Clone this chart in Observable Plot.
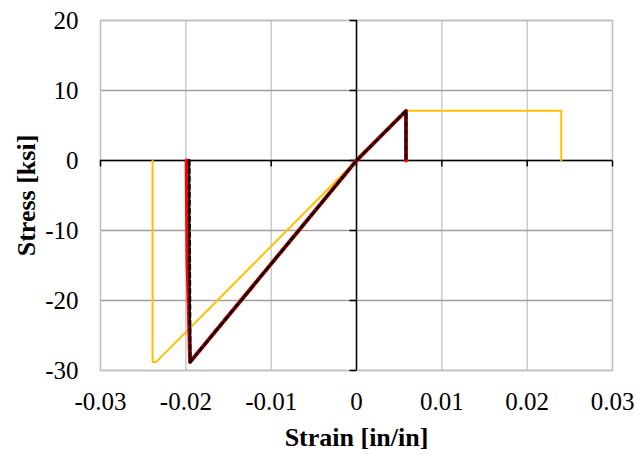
<!DOCTYPE html>
<html>
<head>
<meta charset="utf-8">
<script src="https://cdn.jsdelivr.net/npm/d3@7"></script>
<script src="https://cdn.jsdelivr.net/npm/@observablehq/plot@0.6"></script>
<style>
  html, body { margin: 0; padding: 0; background: #fff; }
</style>
</head>
<body>
<div id="chart"></div>
<script>
// Tick values
const xTicks = [-0.03, -0.02, -0.01, 0, 0.01, 0.02, 0.03];
const yTicks = [-30, -20, -10, 0, 10, 20];

// Series 1 (yellow)
const yellowStrain = [-0.0239, -0.0239, -0.0235, 0, 0.0058, 0.0240, 0.0240];
const yellowStress = [0, -28.8, -28.8, 0, 7.1, 7.1, 0];

// Series 2 (red)
const redStrain = [-0.0199, -0.0198, -0.0195, 0, 0.0058, 0.0058];
const redStress = [0, -14, -28.8, 0, 7.1, 0];

// Series 3 (black dashed)
const blackStrain = [-0.0196, -0.0195, 0, 0.0058, 0.0058];
const blackStress = [0, -28.8, 0, 7.1, 0];

const toRows = (xs, ys) => xs.map((x, i) => ({x, y: ys[i]}));
const yellow = toRows(yellowStrain, yellowStress);
const red = toRows(redStrain, redStress);
const black = toRows(blackStrain, blackStress);

const tickDown = { draw(ctx) { ctx.moveTo(0, 0); ctx.lineTo(0, 6); } };
const tickLeft = { draw(ctx) { ctx.moveTo(0, 0); ctx.lineTo(-7, 0); } };

const fmt = d => String(d);

const chart = Plot.plot({
  width: 635,
  height: 455,
  marginLeft: 100,
  marginRight: 23,
  marginTop: 20,
  marginBottom: 85,
  style: { fontFamily: "'Liberation Serif', 'Times New Roman', serif", fontSize: "25px", color: "#000", background: "#fff" },
  x: { domain: [-0.03, 0.03] },
  y: { domain: [-30, 20] },
  marks: [
    Plot.ruleX(xTicks, { stroke: "#c4c4c4", strokeWidth: 1.3, strokeOpacity: 1 }),
    Plot.ruleY(yTicks, { stroke: "#a0a0a0", strokeWidth: 1.3, strokeOpacity: 1 }),
    Plot.frame({ stroke: "#bfbfbf", strokeWidth: 1.3 }),
    Plot.ruleX([0], { stroke: "#000", strokeWidth: 1.5 }),
    Plot.ruleY([0], { stroke: "#000", strokeWidth: 1.5 }),
    Plot.dot(xTicks, { x: d => d, y: 0, symbol: tickDown, stroke: "#000", strokeWidth: 1.5, fill: "none" }),
    Plot.dot(yTicks, { x: 0, y: d => d, symbol: tickLeft, stroke: "#000", strokeWidth: 1.5, fill: "none" }),
    Plot.line(yellow, { x: "x", y: "y", stroke: "#FFC000", strokeWidth: 2, curve: "linear" }),
    Plot.line(red, { x: "x", y: "y", stroke: "#FF0000", strokeWidth: 4, curve: "linear" }),
    Plot.line(black, { x: "x", y: "y", stroke: "#000", strokeWidth: 2.8, strokeDasharray: "5,3", curve: "linear" }),
    Plot.axisX(xTicks, { anchor: "bottom", tickSize: 0, tickPadding: 22, tickFormat: fmt, fontSize: 25, label: null }),
    Plot.axisY(yTicks, { anchor: "left", tickSize: 0, tickPadding: 22, tickFormat: fmt, fontSize: 25, label: null }),
    Plot.text(["Strain [in/in]"], { frameAnchor: "bottom", dy: 67, lineAnchor: "middle", textAnchor: "middle", fontWeight: "bold", fontSize: 26, fill: "#000" }),
    Plot.text(["Stress [ksi]"], { frameAnchor: "left", dx: -74, rotate: -90, lineAnchor: "middle", textAnchor: "middle", fontWeight: "bold", fontSize: 26, fill: "#000" })
  ]
});
document.getElementById("chart").appendChild(chart);
</script>
</body>
</html>
